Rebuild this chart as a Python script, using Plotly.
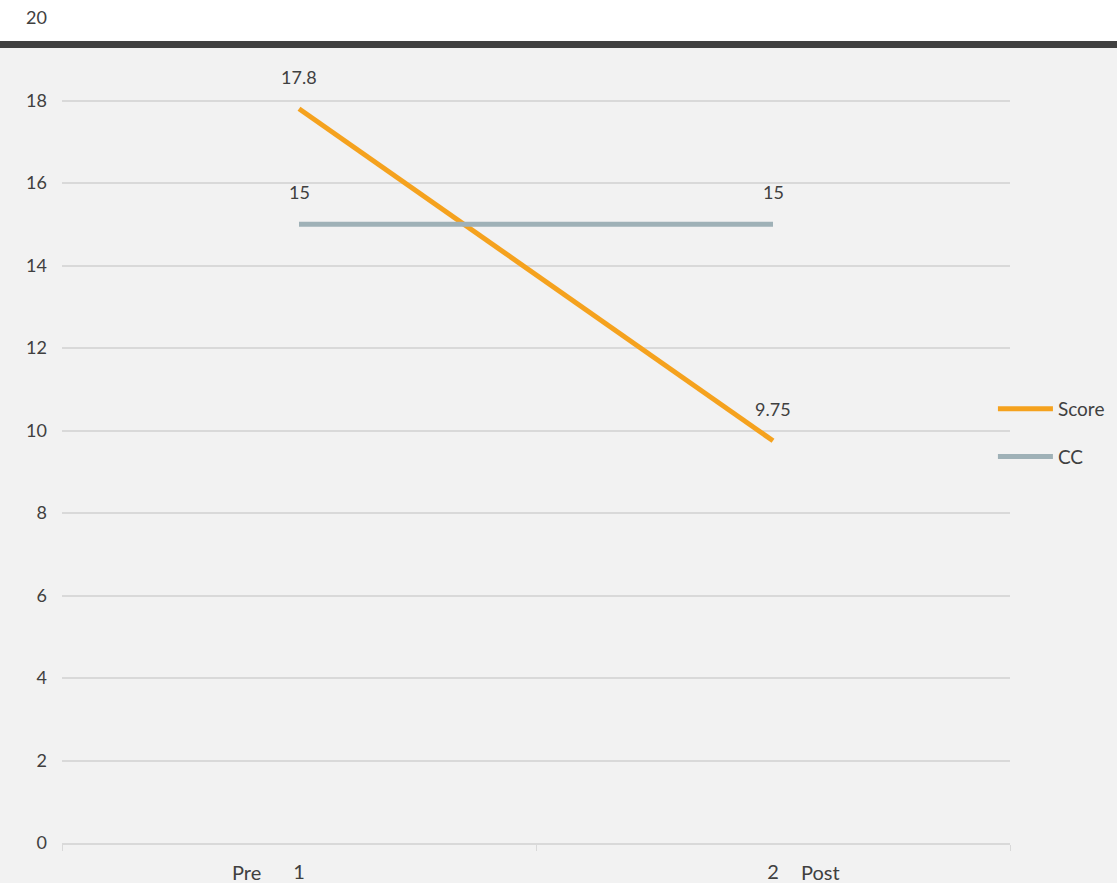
import plotly.graph_objects as go

categories = ["1", "2"]
phase_labels = ["Pre", "Post"]
score = [17.8, 9.75]
cc = [15, 15]
score_labels = ["17.8", "9.75"]
cc_labels = ["15", "15"]

ORANGE = "#f5a21e"
GREY = "#9fb1b7"
TEXT = "#404040"
GRID = "#d9d9d9"
FONT = "Lato, 'Open Sans', sans-serif"

fig = go.Figure()
fig.add_trace(go.Scatter(x=categories, y=score, mode="lines", name="Score",
                         line=dict(color=ORANGE, width=5), legendgroup="a"))
fig.add_trace(go.Scatter(x=categories, y=cc, mode="lines", name="CC",
                         line=dict(color=GREY, width=5), legendgroup="b"))

for ys, ts in [(score, score_labels), (cc, cc_labels)]:
    for i, (y, t) in enumerate(zip(ys, ts)):
        fig.add_annotation(x=i, y=y, text=t, showarrow=False, yshift=32,
                           font=dict(size=18, color=TEXT, family=FONT))

fig.add_annotation(x=0, y=0, yref="y", text=phase_labels[0], showarrow=False,
                   xanchor="right", xshift=-36, yanchor="middle", yshift=-29,
                   font=dict(size=20, color=TEXT, family=FONT))
fig.add_annotation(x=1, y=0, yref="y", text=phase_labels[1], showarrow=False,
                   xanchor="left", xshift=26, yanchor="middle", yshift=-29,
                   font=dict(size=20, color=TEXT, family=FONT))

# white top strip and dark band
fig.add_shape(type="rect", xref="paper", yref="paper", x0=-0.1, x1=1.2, y0=0.972, y1=1.05,
              fillcolor="white", line=dict(width=0), layer="below")
fig.add_shape(type="rect", xref="paper", yref="paper", x0=-0.1, x1=1.2, y0=0.9635, y1=0.972,
              fillcolor="#404040", line=dict(width=0), layer="above")

fig.update_layout(
    width=1117, height=883,
    margin=dict(l=62, r=107, t=18, b=40, autoexpand=False),
    paper_bgcolor="#f2f2f2", plot_bgcolor="rgba(0,0,0,0)",
    font=dict(family=FONT, color=TEXT, size=18),
    showlegend=True,
    legend=dict(x=0.982, y=0.497, xanchor="left", yanchor="middle",
                bgcolor="rgba(0,0,0,0)", font=dict(size=19, color=TEXT, family=FONT),
                itemwidth=55, tracegroupgap=20),
)
fig.update_xaxes(type="category", range=[-0.5, 1.5], tickson="boundaries",
                 ticks="outside", ticklen=6, tickcolor=GRID, showgrid=False,
                 showline=True, linecolor=GRID, linewidth=2, zeroline=False,
                 tickfont=dict(size=20, color=TEXT), ticklabelstandoff=10,
                 automargin=False)
fig.update_yaxes(range=[0, 20], dtick=2, showgrid=True, gridcolor=GRID, gridwidth=2,
                 zeroline=False, showline=False, ticks="",
                 tickfont=dict(size=18, color=TEXT), ticklabelstandoff=14,
                 automargin=False)

fig.write_html("out.html")
